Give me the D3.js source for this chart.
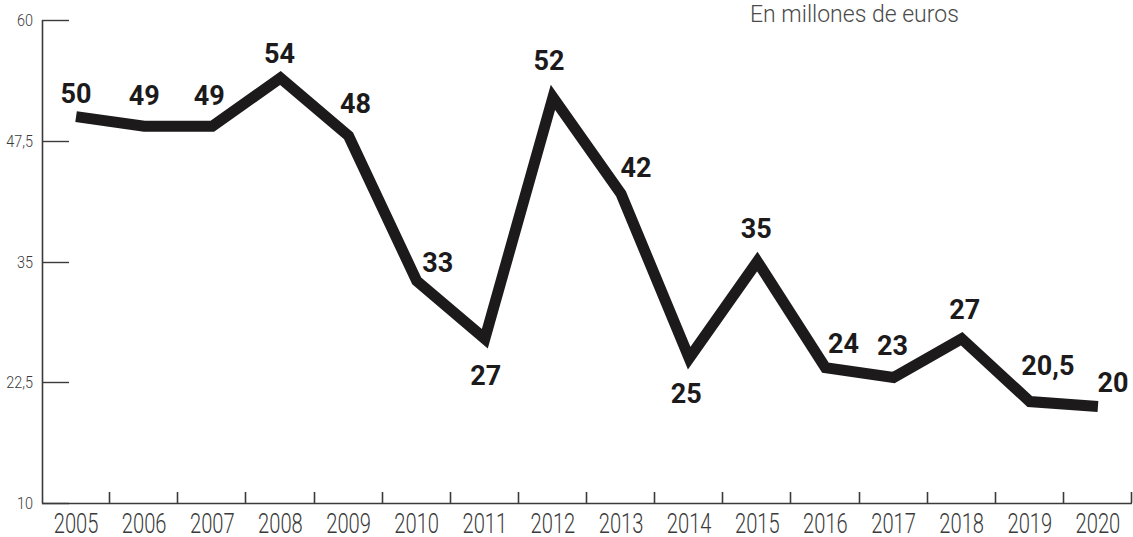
<!DOCTYPE html>
<html>
<head>
<meta charset="utf-8">
<script src="https://cdn.jsdelivr.net/npm/d3@7/dist/d3.min.js"></script>
<style>
  html, body { margin: 0; padding: 0; background: #fff; }
  svg { display: block; }
</style>
</head>
<body>
<svg id="chart" width="1133" height="537"></svg>
<script>
// ---- data ----
const years = ["2005","2006","2007","2008","2009","2010","2011","2012","2013","2014","2015","2016","2017","2018","2019","2020"];
const values = [50, 49, 49, 54, 48, 33, 27, 52, 42, 25, 35, 24, 23, 27, 20.5, 20];
const valueLabels = ["50","49","49","54","48","33","27","52","42","25","35","24","23","27","20,5","20"];
const yTicks = [10, 22.5, 35, 47.5, 60];
const yTickLabels = ["10","22,5","35","47,5","60"];
const unitNote = "En millones de euros";

// label placement (dx, dy of text baseline from point)
const labelOffsets = [[0,-14],[0,-21],[-3,-21],[-1,-15],[7,-23],[21,-9],[1,46],[-4,-27],[15,-17],[-3,45],[-1,-24],[18,-15],[-1,-22],[3,-20],[18,-27],[15,-14]];

const svg = d3.select("#chart");
const x = d3.scaleBand().domain(years).range([42, 1132]).padding(0);
const y = d3.scaleLinear().domain([10, 60]).range([503, 20]);
const cx = d => x(d) + x.bandwidth() / 2;
const axisColor = "#3a3a3a";
const textColor = "#3a3a3a";

// y axis line
svg.append("line")
  .attr("x1", 42.5).attr("x2", 42.5)
  .attr("y1", y(60)).attr("y2", y(10) + 0.5)
  .attr("stroke", axisColor).attr("stroke-width", 1.6);

// y ticks
svg.selectAll(".ytick").data(yTicks).enter().append("line")
  .attr("x1", 42).attr("x2", 69)
  .attr("y1", d => Math.round(y(d)) + 0.5).attr("y2", d => Math.round(y(d)) + 0.5)
  .attr("stroke", axisColor).attr("stroke-width", 1.4);

svg.selectAll(".ylab").data(yTicks).enter().append("text")
  .attr("transform", d => `translate(33,${y(d) + 6}) scale(0.85,1)`)
  .attr("text-anchor", "end")
  .attr("font-family", "Roboto, sans-serif")
  .attr("font-weight", 300)
  .attr("font-size", 17)
  .attr("fill", textColor)
  .text((d, i) => yTickLabels[i]);

// baseline
svg.append("line")
  .attr("x1", 42).attr("x2", 1132)
  .attr("y1", 503.5).attr("y2", 503.5)
  .attr("stroke", axisColor).attr("stroke-width", 1.6);

// x ticks at band boundaries
svg.selectAll(".xtick").data(years).enter().append("line")
  .attr("x1", d => Math.round(x(d) + x.bandwidth()) - 0.5)
  .attr("x2", d => Math.round(x(d) + x.bandwidth()) - 0.5)
  .attr("y1", 503).attr("y2", 492)
  .attr("stroke", axisColor).attr("stroke-width", 1.6);

// year labels
svg.selectAll(".xlab").data(years).enter().append("text")
  .attr("transform", d => `translate(${cx(d)},533) scale(0.72,1)`)
  .attr("text-anchor", "middle")
  .attr("font-family", "Roboto, sans-serif")
  .attr("font-weight", 300)
  .attr("font-size", 28)
  .attr("fill", textColor)
  .text(d => d);

// line
const line = d3.line().x((d, i) => cx(years[i])).y(d => y(d));
svg.append("path")
  .datum(values)
  .attr("d", line)
  .attr("fill", "none")
  .attr("stroke", "#1c1a1b")
  .attr("stroke-width", 11)
  .attr("stroke-linejoin", "miter")
  .attr("stroke-miterlimit", 10)
  .attr("stroke-linecap", "butt");

// value labels
svg.selectAll(".vlab").data(values).enter().append("text")
  .attr("x", (d, i) => cx(years[i]) + labelOffsets[i][0])
  .attr("y", (d, i) => y(d) + labelOffsets[i][1])
  .attr("text-anchor", "middle")
  .attr("font-family", "Roboto, sans-serif")
  .attr("font-weight", 700)
  .attr("font-size", 27)
  .attr("fill", "#1c1a1b")
  .text((d, i) => valueLabels[i]);

// unit note
svg.append("text")
  .attr("x", 750).attr("y", 22)
  .attr("font-family", "Roboto, sans-serif")
  .attr("font-weight", 300)
  .attr("font-size", 23)
  .attr("fill", "#4a4a4a")
  .text(unitNote);
</script>
</body>
</html>
